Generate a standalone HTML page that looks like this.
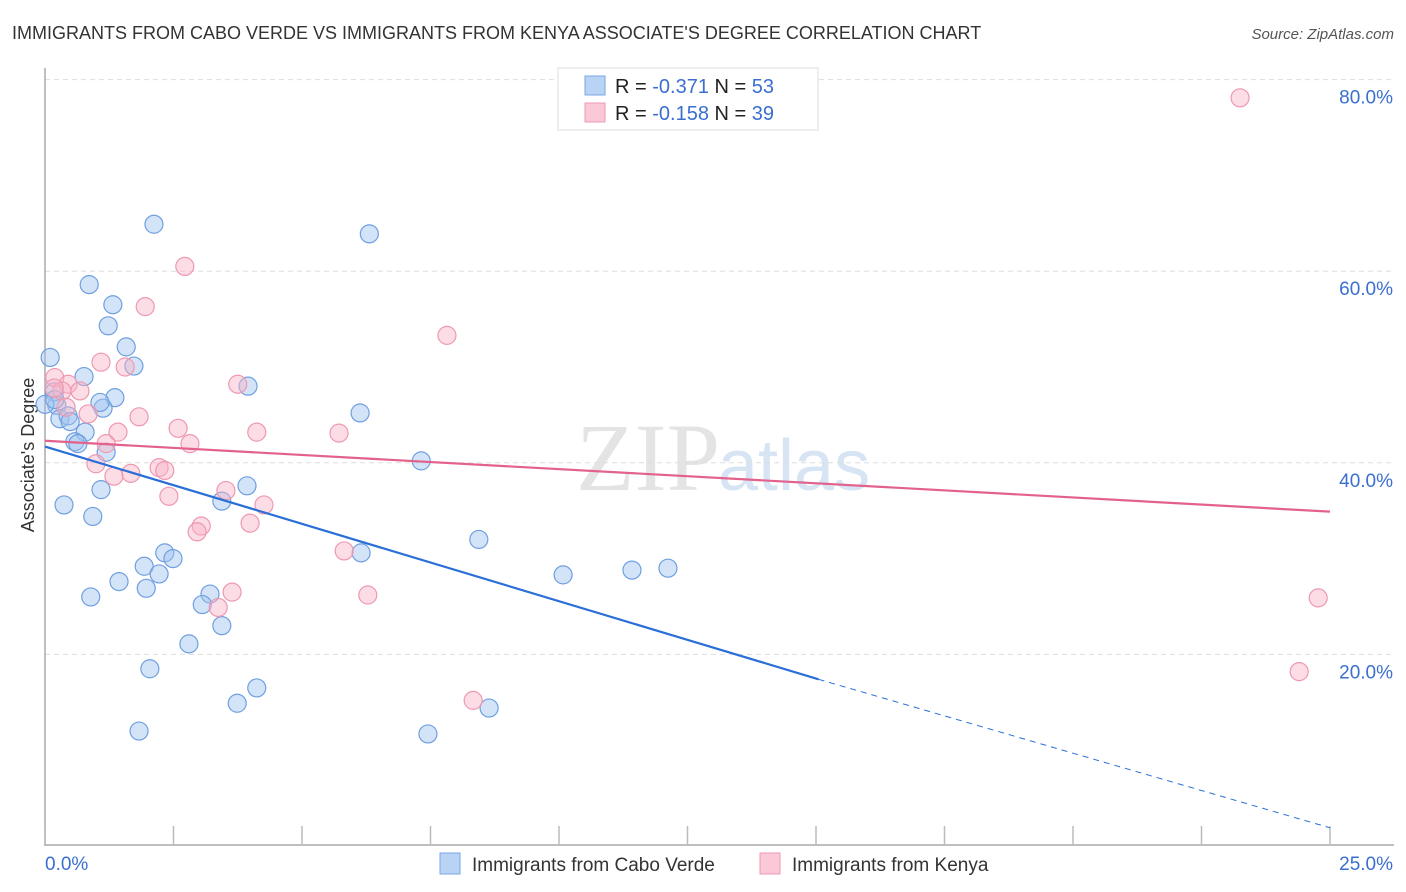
<!DOCTYPE html>
<html><head><meta charset="utf-8"><style>
body{margin:0;background:#fff;font-family:"Liberation Sans",sans-serif;}
#wrap{position:relative;width:1406px;height:892px;overflow:hidden;}
</style></head><body>
<div id="wrap">
<svg id="svg" width="1406" height="892" xmlns="http://www.w3.org/2000/svg">
<text x="12" y="39" font-size="18" fill="#333">IMMIGRANTS FROM CABO VERDE VS IMMIGRANTS FROM KENYA ASSOCIATE'S DEGREE CORRELATION CHART</text>
<text x="1394" y="39" font-size="15" fill="#555" font-style="italic" text-anchor="end">Source: ZipAtlas.com</text>
<text x="720" y="490" font-size="96" fill="#e4e4e4" text-anchor="end" font-family="Liberation Serif">ZIP</text>
<text x="718" y="490" font-size="72" fill="#d6e4f4">atlas</text>
<text transform="translate(34,455) rotate(-90)" font-size="18" fill="#333" text-anchor="middle">Associate's Degree</text>
<g id="grid"></g><g id="pts"></g><g id="lines"></g>
<g>
<rect x="558" y="68" width="260" height="62" fill="#fff" stroke="#ddd"/>
<rect x="585" y="76" width="20" height="19" fill="#b9d3f5" stroke="#7aa6e6"/>
<rect x="585" y="103" width="20" height="19" fill="#fac8d6" stroke="#ee9ab2"/>
<text x="615" y="93" font-size="20" fill="#222">R = <tspan fill="#3a6fd0">-0.371</tspan>   N = <tspan fill="#3a6fd0">53</tspan></text>
<text x="615" y="120" font-size="20" fill="#222">R = <tspan fill="#3a6fd0">-0.158</tspan>   N = <tspan fill="#3a6fd0">39</tspan></text>
</g>
<g>
<rect x="440" y="853" width="20" height="21" fill="#b9d3f5" stroke="#7aa6e6"/>
<text x="472" y="871" font-size="19" fill="#333">Immigrants from Cabo Verde</text>
<rect x="760" y="853" width="20" height="21" fill="#fac8d6" stroke="#ee9ab2"/>
<text x="792" y="871" font-size="19" fill="#333">Immigrants from Kenya</text>
</g>
</svg>
</div>
<script>
const xTicks=[0,2.5,5,7.5,10,12.5,15,17.5,20,22.5,25];
const yTicks=[20,40,60,80];
const yTickLabels=["20.0%","40.0%","60.0%","80.0%"];
const caboX=[2.12,6.31,0.86,1.32,1.23,1.58,0.10,1.73,0.76,3.95,0.18,1.36,1.13,6.13,0.23,0.29,0.45,0.49,0.78,0.58,1.19,7.32,1.09,3.93,3.44,0.37,0.93,8.44,2.33,6.15,2.49,1.93,1.44,1.97,2.22,10.08,11.42,12.12,0.89,3.21,3.06,3.44,2.80,2.04,4.12,3.74,8.64,1.83,7.45,0.00,0.64,0.19,1.07];
const caboY=[64.9,63.9,58.6,56.5,54.3,52.1,51.0,50.1,49.0,48.0,47.4,46.8,45.7,45.2,46.0,44.6,44.9,44.3,43.2,42.2,41.1,40.2,37.2,37.6,36.0,35.6,34.4,32.0,30.6,30.6,30.0,29.2,27.6,26.9,28.4,28.3,28.8,29.0,26.0,26.3,25.2,23.0,21.1,18.5,16.5,14.9,14.4,12.0,11.7,46.1,42.0,46.6,46.3];
const kenyaX=[23.25,2.72,1.95,7.82,1.09,1.56,0.19,0.45,0.33,0.68,3.75,0.41,0.84,1.83,4.12,2.59,1.42,5.72,2.82,1.19,0.99,2.22,1.67,2.33,1.34,3.52,2.41,4.26,3.04,3.99,2.96,5.82,3.64,6.28,3.37,8.33,24.77,24.40,0.18];
const kenyaY=[78.1,60.5,56.3,53.3,50.5,50.0,48.9,48.2,47.5,47.5,48.2,45.8,45.1,44.8,43.2,43.6,43.2,43.1,42.0,42.0,39.9,39.5,38.9,39.2,38.6,37.1,36.5,35.6,33.4,33.7,32.8,30.8,26.5,26.2,24.9,15.2,25.9,18.2,47.8];
const caboTrend=[0,41.7,15.05,17.4,25,1.9];
const kenyaTrend=[0,42.3,25,34.9];
const X=v=>45+v*51.4, Y=v=>846-v*9.58;
const NS="http://www.w3.org/2000/svg";
function mk(tag,attrs,parent){const e=document.createElementNS(NS,tag);for(const k in attrs)e.setAttribute(k,attrs[k]);parent.appendChild(e);return e;}
const grid=document.getElementById('grid');
yTicks.forEach((t,i)=>{
 const l=mk('line',{x1:45,x2:1394,y1:Y(t),y2:Y(t),stroke:'#ddd','stroke-dasharray':'5,4'},grid);
 
 
 const tx=mk('text',{x:1393,y:Y(t)+24,'font-size':19,fill:'#3a6fd0','text-anchor':'end'},grid);
 tx.textContent=yTickLabels[i];
 
 
});
const ax=mk('line',{x1:45,x2:45,y1:68,y2:846,stroke:'#aaa','stroke-width':1.5},grid);


const bx=mk('line',{x1:45,x2:1394,y1:845,y2:845,stroke:'#aaa','stroke-width':1.5},grid);


xTicks.forEach(t=>{
 const l=mk('line',{x1:X(t),x2:X(t),y1:826,y2:845,stroke:'#bbb','stroke-width':1.5},grid);
 
 
});
const xl0=mk('text',{x:45,y:870,'font-size':19,fill:'#3a6fd0'},grid);xl0.textContent="0.0%";


const xl1=mk('text',{x:1393,y:870,'font-size':19,fill:'#3a6fd0','text-anchor':'end'},grid);xl1.textContent="25.0%";


const pts=document.getElementById('pts');
caboX.forEach((v,i)=>{
 const c=mk('circle',{cx:X(v),cy:Y(caboY[i]),r:9,fill:'rgba(160,196,240,0.45)',stroke:'#6f9fe0','stroke-width':1.2},pts);
 
 
});
kenyaX.forEach((v,i)=>{
 const c=mk('circle',{cx:X(v),cy:Y(kenyaY[i]),r:9,fill:'rgba(248,180,200,0.45)',stroke:'#ee98b0','stroke-width':1.2},pts);
 
 
});
const lines=document.getElementById('lines');
const t1=mk('line',{x1:X(caboTrend[0]),y1:Y(caboTrend[1]),x2:X(caboTrend[2]),y2:Y(caboTrend[3]),stroke:'#2a6fd8','stroke-width':2.2},lines);


const t2=mk('line',{x1:X(caboTrend[2]),y1:Y(caboTrend[3]),x2:X(caboTrend[4]),y2:Y(caboTrend[5]),stroke:'#2a6fd8','stroke-width':1,'stroke-dasharray':'6,5'},lines);


const t3=mk('line',{x1:X(kenyaTrend[0]),y1:Y(kenyaTrend[1]),x2:X(kenyaTrend[2]),y2:Y(kenyaTrend[3]),stroke:'#e2628c','stroke-width':2.2},lines);


</script>
</body></html>
